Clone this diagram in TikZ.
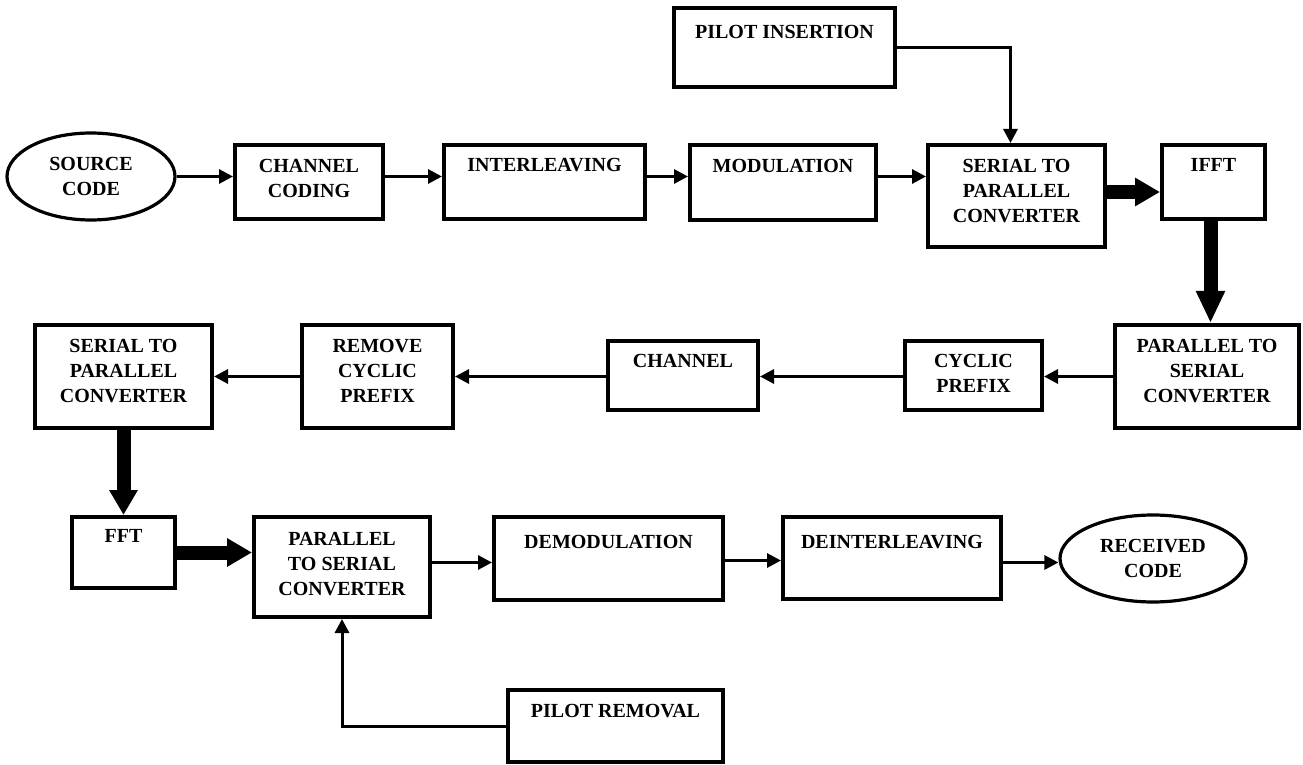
\documentclass[tikz,border=0pt]{standalone}
\usepackage{fontspec}
\setmainfont{Liberation Serif}
\usetikzlibrary{arrows.meta,shapes.geometric}
\newcommand\mkbox[7]{%
  \node[blk, minimum width={(#4-#2)*0.5pt}, minimum height={(#5-#3)*0.5pt}] (#1) at ({(#2+#4)/2},{(#3+#5)/2}) {};
  \node[txt, anchor=north] (#1-t) at ([yshift={-(#6-6.5)*0.5pt}]#1.north) {#7};
}
\begin{document}
\begin{tikzpicture}[x=0.5pt, y=-0.5pt,
  blk/.style={draw, line width=2pt, inner sep=0pt},
  oval/.style={draw, ellipse, line width=1.6pt, inner sep=0pt, align=center,
    font=\bfseries\fontsize{10}{12.5}\selectfont},
  txt/.style={font=\bfseries\fontsize{10}{12.7}\selectfont, align=center, inner sep=0pt},
  arr/.style={line width=1.5pt, -{Triangle[length=7pt,width=7pt]}},
  fat/.style={line width=7pt, -{Triangle[length=12.5pt,width=13.5pt]}}]
\useasboundingbox (0,0) rectangle (1303,765);

\node[oval, minimum width=84pt, minimum height=43.5pt] (src) at (91,176.5) {SOURCE\\CODE};
\node[oval, minimum width=93pt, minimum height=43.5pt] (rc) at (1153,558.5) {RECEIVED\\CODE};

\mkbox{cc}{235}{145}{383}{219}{22}{CHANNEL\\CODING}
\mkbox{il}{444}{145}{645}{219}{21}{INTERLEAVING}
\mkbox{mod}{690}{145}{876}{220}{22}{MODULATION}
\mkbox{pi}{674}{8}{895}{87}{25}{PILOT INSERTION}
\mkbox{s2p}{928}{145}{1105}{247}{22}{SERIAL TO\\PARALLEL\\CONVERTER}
\mkbox{ifft}{1162}{145}{1265}{219}{22}{IFFT}
\mkbox{p2s}{1115}{325}{1299}{428}{22}{PARALLEL TO\\SERIAL\\CONVERTER}
\mkbox{cp}{905}{341}{1042}{410}{21}{CYCLIC\\PREFIX}
\mkbox{ch}{608}{341}{758}{410}{21}{CHANNEL}
\mkbox{rcp}{302}{325}{453}{428}{22}{REMOVE\\CYCLIC\\PREFIX}
\mkbox{s2pl}{35}{325}{212}{428}{22}{SERIAL TO\\PARALLEL\\CONVERTER}
\mkbox{fft}{72}{517}{175}{588}{21}{FFT}
\mkbox{p2sb}{254}{517}{430}{617}{23}{PARALLEL\\TO SERIAL\\CONVERTER}
\mkbox{dm}{494}{517}{723}{600}{26}{DEMODULATION}
\mkbox{di}{783}{517}{1001}{599}{26}{DEINTERLEAVING}
\mkbox{pr}{508}{690}{723}{762}{22}{PILOT REMOVAL}

% row 1
\draw[arr] (src.east) -- (src.east -| cc.west);
\draw[arr] (cc.east |- src.east) -- (il.west |- src.east);
\draw[arr] (il.east |- src.east) -- (mod.west |- src.east);
\draw[arr] (mod.east |- src.east) -- (s2p.west |- src.east);
\draw[arr] (pi.east) -| ([xshift=-3pt]s2p.north);
\draw[fat] ([yshift=2pt]s2p.east) -- ([yshift=2pt]s2p.east -| ifft.west);
\draw[fat, -{Triangle[length=16pt,width=13.5pt]}] ([xshift=-1.5pt]ifft.south) -- ([xshift=-1.5pt]ifft.south |- p2s.north);
% row 2
\draw[arr] (p2s.west) -- (p2s.west -| cp.east);
\draw[arr] (cp.west |- p2s.west) -- (ch.east |- p2s.west);
\draw[arr] (ch.west |- p2s.west) -- (rcp.east |- p2s.west);
\draw[arr] (rcp.west |- p2s.west) -- (s2pl.east |- p2s.west);
\draw[fat] (s2pl.south) -- (s2pl.south |- fft.north);
% row 3
\draw[fat] (fft.east) -- (fft.east -| p2sb.west);
\draw[arr] ([yshift=-2pt]p2sb.east |- dm.west) -- ([yshift=-2pt]dm.west);
\draw[arr] ([yshift=-1pt]dm.east) -- ([yshift=-1pt]dm.east -| di.west);
\draw[arr] ([yshift=-2pt]di.east |- rc.west) -- ([yshift=-2pt]rc.west);
\draw[arr] (pr.west) -| (p2sb.south);
\end{tikzpicture}
\end{document}
